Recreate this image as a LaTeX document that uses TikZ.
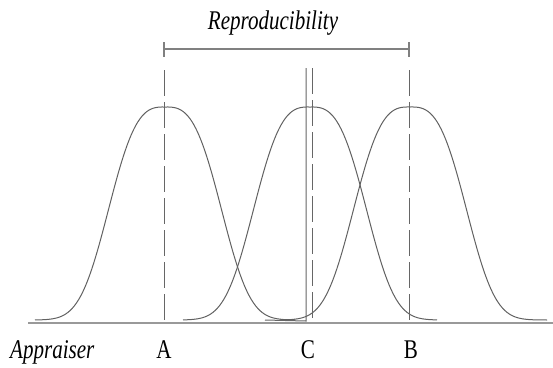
\documentclass[tikz,border=0pt]{standalone}
\usepackage{fontspec}
\setmainfont{Liberation Serif}
\begin{document}
\begin{tikzpicture}[x=1pt,y=-1pt,
  curve/.style={draw=black!62, line width=1pt},
  guide/.style={draw=black!60, line width=1pt, dash pattern=on 26pt off 6pt},
  solidguide/.style={draw=black!60, line width=1pt},
  axis/.style={draw=black!40, line width=2.4pt},
  bar/.style={draw=black!50, line width=1.8pt},
  lbl/.style={font=\fontsize{27}{27}\selectfont, xscale=0.78, anchor=base, inner sep=0pt, text=black},
  ilbl/.style={lbl, font=\itshape\fontsize{27}{27}\selectfont}]
\useasboundingbox (0,0) rectangle (553,367);
% axis
\coordinate (ax0) at (28,323);
\coordinate (ax1) at (553,323);
\draw[axis] (ax0) -- (ax1);
% curves
\draw[curve] plot[domain=-130:130, samples=120, smooth] ({165+\x},{320-213*exp(-(abs(\x)/65)^3)});
\draw[curve] plot[domain=-127:127, samples=120, smooth] ({310+\x},{320-213*exp(-(abs(\x)/65)^3)});
\draw[curve] plot[domain=-130:137, samples=120, smooth] ({410+\x},{320-213*exp(-(abs(\x)/65)^3)});
% guide lines
\coordinate (At) at (164,70);
\coordinate (Ab) at (164,323);
\coordinate (Bt) at (409,70);
\coordinate (Bb) at (409,323);
\coordinate (Ct) at (312,68);
\coordinate (Cb) at (312,323);
\coordinate (St) at (306,68);
\coordinate (Sb) at (306,321);
\coordinate (Sf) at (265,320);
\draw[guide] (At) -- (Ab);
\draw[guide] (Bt) -- (Bb);
\draw[guide] (Ct) -- (Cb);
\draw[solidguide] (St) -- (Sb) -- (Sf);
% reproducibility bar
\coordinate (R0) at (164,49);
\coordinate (R1) at (409,49);
\draw[bar] (R0) -- (R1);
\draw[bar] (164,42) -- (164,57);
\draw[bar] (409,42) -- (409,57);
\node[ilbl] (rep) at (273,29) {Reproducibility};
% labels
\node[ilbl, anchor=base west] (app) at (10,358) {Appraiser};
\node[lbl] (la) at (164,358) {A};
\node[lbl] (lc) at (308,358) {C};
\node[lbl] (lb) at (411,358) {B};
\end{tikzpicture}
\end{document}
